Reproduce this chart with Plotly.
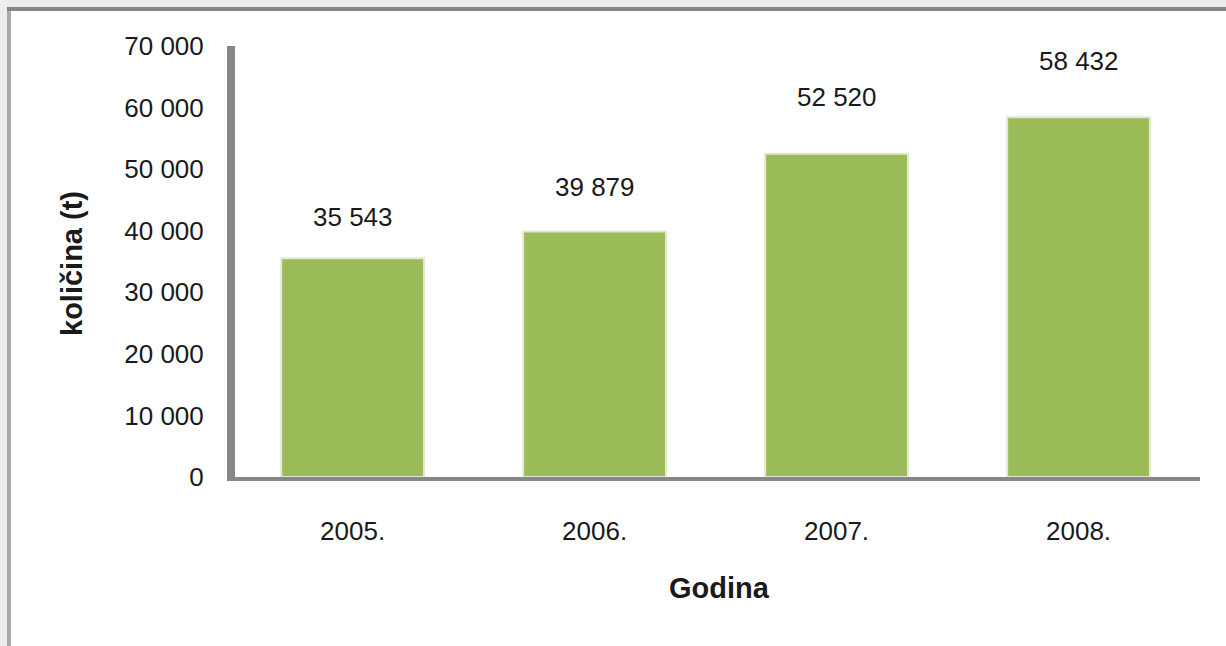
import plotly.graph_objects as go

# ---- data ----
years = ["2005.", "2006.", "2007.", "2008."]
quantity = [35543, 39879, 52520, 58432]
value_labels = ["35 543", "39 879", "52 520", "58 432"]
y_tick_vals = [0, 10000, 20000, 30000, 40000, 50000, 60000, 70000]
y_tick_text = ["0", "10 000", "20 000", "30 000", "40 000", "50 000", "60 000", "70 000"]
x_title = "Godina"
y_title = "količina (t)"

# ---- layout geometry (pixels) ----
W, H = 1226, 646
L, R, T, B = 235, 26, 46, 169
PW, PH = W - L - R, H - T - B
label_shift = [41, 44, 57, 56]  # label centre offset above bar top (px)

FONT = "Liberation Sans, Arial, sans-serif"
TXT = "#1a1a1a"

def xp(px):
    return (px - L) / PW

def yp(py):
    return (H - B - py) / PH

fig = go.Figure()
fig.add_trace(go.Bar(
    x=list(range(len(years))), y=quantity,
    marker=dict(color="#9BBB59", line=dict(color="#e3e8d4", width=2)),
    hoverinfo="skip",
))

annotations = []
for i, (v, t) in enumerate(zip(quantity, value_labels)):
    annotations.append(dict(
        x=i, y=v, xref="x", yref="y", text=t, showarrow=False,
        yanchor="middle", yshift=label_shift[i],
        font=dict(family=FONT, size=26, color=TXT),
    ))
annotations.append(dict(
    x=xp(719), y=yp(588), xref="paper", yref="paper", text="<b>" + x_title + "</b>",
    showarrow=False, xanchor="center", yanchor="middle",
    font=dict(family=FONT, size=29, color=TXT),
))
annotations.append(dict(
    x=xp(72), y=yp(264), xref="paper", yref="paper", text="<b>" + y_title + "</b>",
    showarrow=False, xanchor="center", yanchor="middle", textangle=-90,
    font=dict(family=FONT, size=29, color=TXT),
))

def rect(x0, y0, x1, y1, color):
    return dict(type="rect", xref="paper", yref="paper",
                x0=xp(x0), x1=xp(x1), y0=yp(y1), y1=yp(y0),
                fillcolor=color, line=dict(width=0), layer="below")

shapes = [
    rect(0, 0, 7, H, "#ececec"),
    rect(0, 0, W, 7, "#ededed"),
    rect(7, 7, 11, H, "#a9a9a9"),
    rect(7, 7, W, 11, "#878787"),
]

fig.update_layout(
    width=W, height=H,
    margin=dict(l=L, r=R, t=T, b=B, pad=0),
    paper_bgcolor="white", plot_bgcolor="white",
    showlegend=False, bargap=0.41,
    annotations=annotations, shapes=shapes,
    xaxis=dict(
        range=[-0.486, 3.502], tickmode="array",
        tickvals=list(range(len(years))), ticktext=years,
        showline=True, linecolor="#878787", linewidth=4,
        showgrid=False, zeroline=False, ticks="", ticklabelstandoff=28,
        tickfont=dict(family=FONT, size=26, color=TXT), fixedrange=True,
    ),
    yaxis=dict(
        range=[0, 70000], tickmode="array",
        tickvals=y_tick_vals, ticktext=y_tick_text,
        showline=True, linecolor="#878787", linewidth=8,
        showgrid=False, zeroline=False, ticks="", ticklabelstandoff=18,
        tickfont=dict(family=FONT, size=26, color=TXT), fixedrange=True,
    ),
)

fig.write_html("out.html")
